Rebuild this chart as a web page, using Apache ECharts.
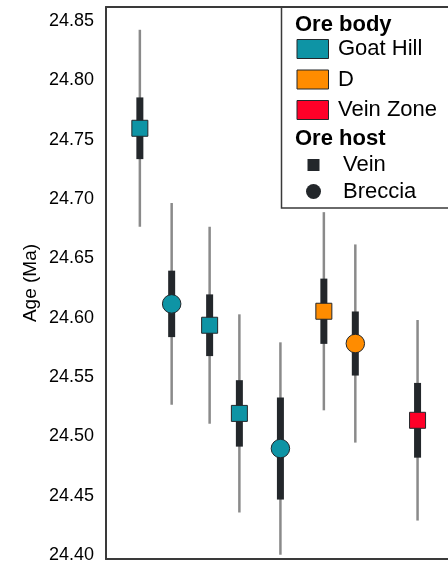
<!DOCTYPE html>
<html>
<head>
<meta charset="utf-8">
<script src="https://cdn.jsdelivr.net/npm/echarts@6/dist/echarts.min.js"></script>
<style>
html,body{margin:0;padding:0;background:#fff;}
#chart{width:448px;height:565px;}
</style>
</head>
<body>
<div id="chart"></div>
<script>
// ---- data ----
const xPos      = [0.99, 1.92, 3.03, 3.90, 5.10, 6.37, 7.29, 9.11];
const ages      = [24.7596, 24.6116, 24.5936, 24.5193, 24.4897, 24.6054, 24.5782, 24.5135];
const errThick  = [0.026, 0.028, 0.026, 0.028, 0.043, 0.0275, 0.027, 0.0315];
const errThin   = [0.083, 0.085, 0.083, 0.0835, 0.0895, 0.0835, 0.0835, 0.0845];
const oreBody   = ['Goat Hill','Goat Hill','Goat Hill','Goat Hill','Goat Hill','D','D','Vein Zone'];
const oreHost   = ['Vein','Breccia','Vein','Vein','Breccia','Vein','Breccia','Vein'];
const bodyNames = ['Goat Hill','D','Vein Zone'];
const hostNames = ['Vein','Breccia'];
const yTicks    = [24.40, 24.45, 24.50, 24.55, 24.60, 24.65, 24.70, 24.75, 24.80, 24.85];

const bodyColors = {'Goat Hill':'#0e94a5','D':'#ff8c00','Vein Zone':'#ff0028'};
const hostSymbols = {'Vein':'rect','Breccia':'circle'};
const DARK = '#23272b';
const FRAME = '#3a3a3a';
const FONT = 'Liberation Sans, Arial, Helvetica, sans-serif';

const errData = xPos.map((x,i)=>[x, ages[i], errThick[i], errThin[i]]);
const ptData = xPos.map((x,i)=>({
  value:[x, ages[i]],
  symbol: hostSymbols[oreHost[i]],
  symbolSize: oreHost[i]==='Breccia' ? 18.5 : 16,
  itemStyle:{color: bodyColors[oreBody[i]], borderColor: DARK, borderWidth: 1, opacity:1}
}));

const chart = echarts.init(document.getElementById('chart'), null, {renderer:'canvas'});

// legend graphics
const legendChildren = [];
legendChildren.push({type:'rect', shape:{x:281.5,y:7,width:200,height:201}, style:{fill:'#fff',stroke:FRAME,lineWidth:1.5}});
legendChildren.push({type:'text', x:295, y:25, style:{text:'Ore body', font:'bold 22px '+FONT, fill:'#000', verticalAlign:'middle'}});
const swY = [49, 79.5, 110];
bodyNames.forEach((n,i)=>{
  legendChildren.push({type:'rect', shape:{x:297,y:swY[i]-9.5,width:31.5,height:19}, style:{fill:bodyColors[n],stroke:DARK,lineWidth:1}});
  legendChildren.push({type:'text', x:338, y:swY[i], style:{text:n, font:'22px '+FONT, fill:'#000', verticalAlign:'middle'}});
});
legendChildren.push({type:'text', x:295, y:139, style:{text:'Ore host', font:'bold 22px '+FONT, fill:'#000', verticalAlign:'middle'}});
legendChildren.push({type:'rect', shape:{x:307.5,y:159,width:12,height:12}, style:{fill:DARK}});
legendChildren.push({type:'text', x:343, y:165, style:{text:hostNames[0], font:'22px '+FONT, fill:'#000', verticalAlign:'middle'}});
legendChildren.push({type:'circle', shape:{cx:313.5,cy:191.5,r:7.5}, style:{fill:DARK}});
legendChildren.push({type:'text', x:343, y:191.5, style:{text:hostNames[1], font:'22px '+FONT, fill:'#000', verticalAlign:'middle'}});

const hiddenAxisBits = {axisTick:{show:false}, axisLabel:{show:false}, splitLine:{show:false}};

chart.setOption({
  animation:false,
  backgroundColor:'#fff',
  grid:{left:106, right:0, top:7, bottom:6, show:false},
  xAxis:[
    Object.assign({type:'value', min:0, max:10, position:'bottom',
      axisLine:{show:true, onZero:false, lineStyle:{color:FRAME, width:2}}}, hiddenAxisBits),
    Object.assign({type:'value', min:0, max:10, position:'top',
      axisLine:{show:true, onZero:false, lineStyle:{color:FRAME, width:2}}}, hiddenAxisBits)
  ],
  yAxis:{type:'value', min:24.3966, max:24.8618,
    name:'Age (Ma)', nameLocation:'middle', nameGap:66, nameMoveOverlap:false,
    nameTextStyle:{fontFamily:FONT, fontSize:19, color:'#000'},
    axisLine:{show:true, onZero:false, lineStyle:{color:FRAME, width:2}},
    axisTick:{show:false}, splitLine:{show:false},
    axisLabel:{customValues:yTicks, formatter:v=>v.toFixed(2), fontFamily:FONT, fontSize:18, color:'#000', margin:12}},
  series:[
    {type:'custom', data:errData, z:2, xAxisIndex:0,
      renderItem:(params, api)=>{
        const x = api.value(0), a = api.value(1), e1 = api.value(2), e2 = api.value(3);
        const pTop2 = api.coord([x, a+e2]), pBot2 = api.coord([x, a-e2]);
        const pTop1 = api.coord([x, a+e1]), pBot1 = api.coord([x, a-e1]);
        return {type:'group', children:[
          {type:'line', shape:{x1:pTop2[0],y1:pTop2[1],x2:pBot2[0],y2:pBot2[1]}, style:{stroke:'#8a8a8a',lineWidth:2.5}},
          {type:'rect', shape:{x:pTop1[0]-3.5,y:pTop1[1],width:7,height:pBot1[1]-pTop1[1]}, style:{fill:DARK}}
        ]};
      }},
    {type:'scatter', data:ptData, z:5, xAxisIndex:0, itemStyle:{opacity:1}}
  ],
  graphic:[{type:'group', z:100, children:legendChildren}]
});
</script>
</body>
</html>
